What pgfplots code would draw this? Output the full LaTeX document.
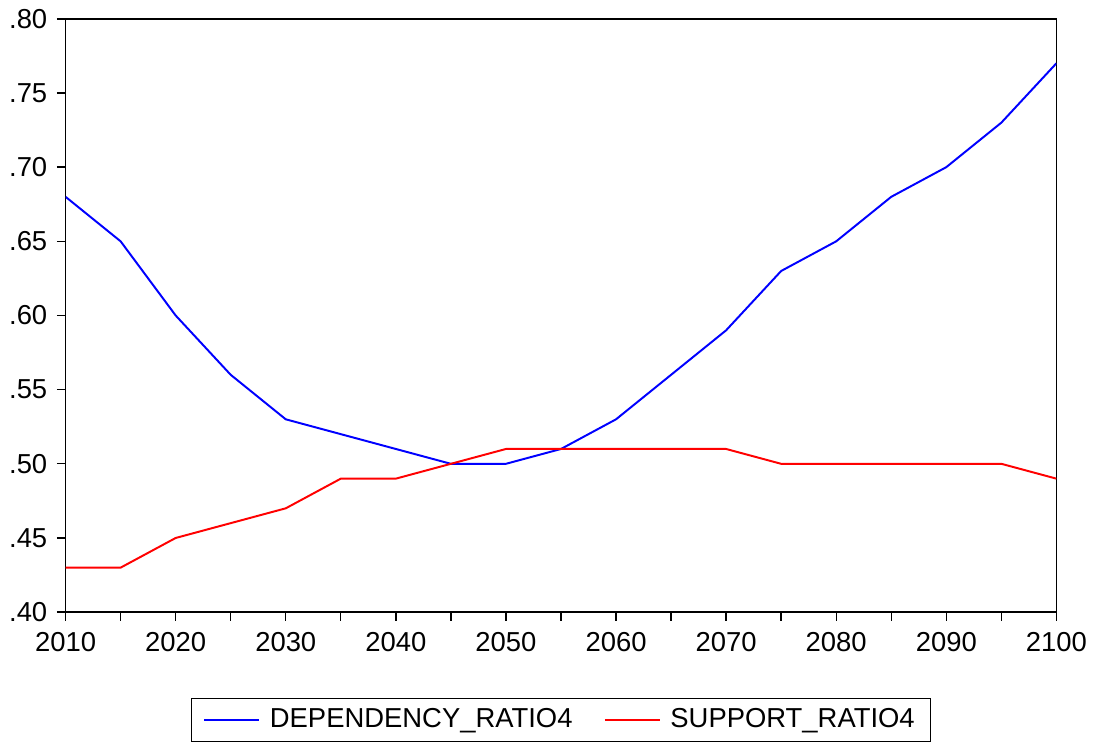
\documentclass[border=0pt]{standalone}
\usepackage{pgfplots}
\pgfplotsset{compat=1.18}
\usepackage{fontspec}
\setmainfont{Liberation Sans}

\begin{document}
\fontsize{14pt}{16pt}\selectfont
\begin{tikzpicture}
\begin{axis}[
    scale only axis,
    width=506pt, height=303pt,
    xmin=2010, xmax=2100,
    ymin=0.40, ymax=0.80,
    xtick={2010,2020,...,2100},
    xticklabels={2010,2020,2030,2040,2050,2060,2070,2080,2090,2100},
    minor xtick={2015,2025,...,2095},
    ytick={0.40,0.45,...,0.801},
    yticklabels={.40,.45,.50,.55,.60,.65,.70,.75,.80},
    tick align=outside,
    xtick pos=bottom, ytick pos=left,
    major tick length=4.5pt, minor tick length=4.5pt,
    every tick/.style={black, line width=0.7pt},
    minor tick style={black, line width=0.7pt},
    axis line style={line width=0.8pt},
    tick label style={font=\fontsize{14pt}{16pt}\selectfont, text=black},
    xticklabel style={yshift=-1pt},
    legend style={at={(0.5,-0.145)}, anchor=north, legend columns=2,
      draw=black, line width=0.6pt, font=\fontsize{14pt}{16pt}\selectfont,
      inner xsep=6pt, inner ysep=3pt,
      /tikz/every odd column/.append style={column sep=3pt},
      /tikz/every even column/.append style={column sep=14pt}},
    legend image code/.code={\draw[#1, line width=1pt] (0cm,0cm) -- (28pt,0cm);},
    every axis plot/.append style={line width=1pt},
]
\addplot[blue, mark=none] coordinates {
(2010,0.68) (2015,0.65) (2020,0.60) (2025,0.56) (2030,0.53) (2035,0.52)
(2040,0.51) (2045,0.50) (2050,0.50) (2055,0.51) (2060,0.53) (2065,0.56)
(2070,0.59) (2075,0.63) (2080,0.65) (2085,0.68) (2090,0.70) (2095,0.73)
(2100,0.77)};
\addplot[red, mark=none] coordinates {
(2010,0.43) (2015,0.43) (2020,0.45) (2025,0.46) (2030,0.47) (2035,0.49)
(2040,0.49) (2045,0.50) (2050,0.51) (2055,0.51) (2060,0.51) (2065,0.51)
(2070,0.51) (2075,0.50) (2080,0.50) (2085,0.50) (2090,0.50) (2095,0.50)
(2100,0.49)};
\legend{DEPENDENCY\_RATIO4, SUPPORT\_RATIO4}
\end{axis}
\end{tikzpicture}
\end{document}
